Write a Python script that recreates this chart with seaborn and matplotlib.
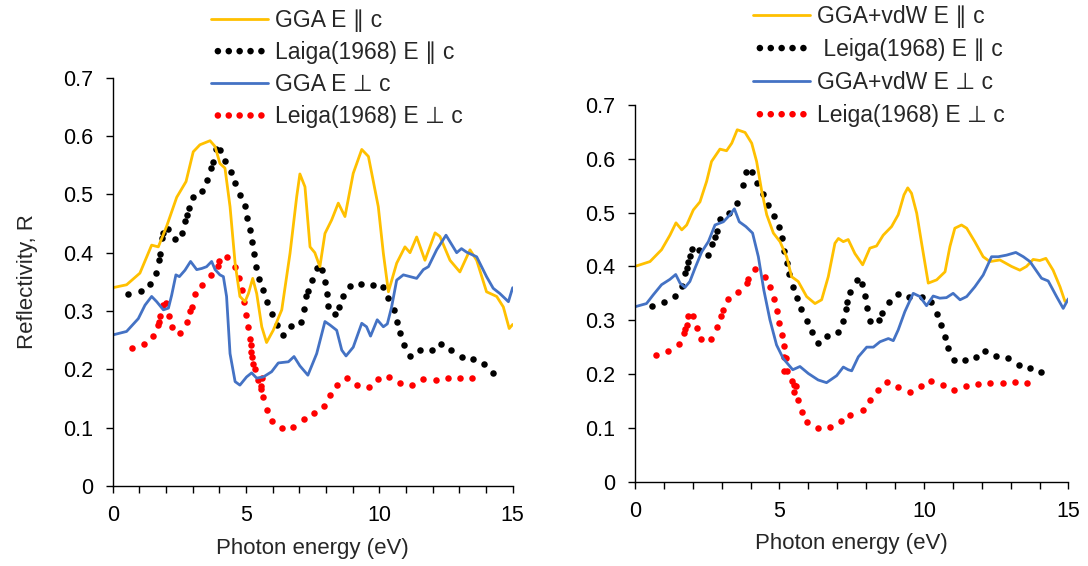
import matplotlib
matplotlib.use("Agg")
import matplotlib.pyplot as plt
import seaborn as sns
import pandas as pd
from matplotlib.ticker import FixedLocator, FuncFormatter

# ---------------- data: left panel (GGA) ----------------
gga_par_x = [0, 0.52, 1.02, 1.46, 1.71, 2.02, 2.4, 2.75, 3.02, 3.27, 3.65, 3.84, 4.02, 4.21, 4.4, 4.59,
             4.77, 4.96, 5.09, 5.25, 5.4, 5.59, 5.77, 6.02, 6.34, 6.65, 6.9, 7.02, 7.21, 7.4, 7.58,
             7.77, 7.96, 8.21, 8.46, 8.71, 9.02, 9.34, 9.59, 9.96, 10.15, 10.34, 10.65, 10.96, 11.15,
             11.4, 11.71, 12.09, 12.27, 12.65, 13.02, 13.4, 13.65, 14.02, 14.4, 14.65, 14.87, 15.0]
gga_par_y = [0.340, 0.345, 0.365, 0.413, 0.410, 0.445, 0.495, 0.522, 0.573, 0.585, 0.592, 0.582, 0.553,
             0.545, 0.479, 0.382, 0.325, 0.316, 0.330, 0.356, 0.330, 0.273, 0.246, 0.267, 0.302, 0.399,
             0.496, 0.535, 0.513, 0.410, 0.400, 0.376, 0.433, 0.456, 0.485, 0.462, 0.536, 0.577, 0.565,
             0.479, 0.399, 0.333, 0.382, 0.410, 0.400, 0.427, 0.387, 0.434, 0.428, 0.387, 0.367, 0.405,
             0.387, 0.333, 0.325, 0.307, 0.270, 0.277]

gga_perp_x = [0, 0.52, 0.96, 1.21, 1.46, 1.65, 1.9, 2.09, 2.21, 2.37, 2.5, 2.71, 2.92, 3.15, 3.34, 3.52,
              3.71, 3.84, 4.02, 4.15, 4.27, 4.4, 4.59, 4.77, 5.02, 5.21, 5.4, 5.65, 5.96, 6.21, 6.59,
              6.8, 7.02, 7.32, 7.65, 7.96, 8.15, 8.4, 8.59, 8.75, 9.02, 9.34, 9.52, 9.67, 9.92, 10.15,
              10.3, 10.46, 10.65, 10.9, 11.4, 11.65, 11.84, 12.15, 12.5, 12.9, 13.08, 13.27, 13.65,
              14.02, 14.27, 14.52, 14.84, 15.0]
gga_perp_y = [0.259, 0.265, 0.287, 0.310, 0.325, 0.316, 0.302, 0.305, 0.327, 0.362, 0.359, 0.370, 0.385,
              0.371, 0.373, 0.376, 0.385, 0.371, 0.362, 0.359, 0.325, 0.227, 0.179, 0.173, 0.187, 0.194,
              0.185, 0.187, 0.196, 0.211, 0.213, 0.222, 0.206, 0.190, 0.227, 0.282, 0.276, 0.267, 0.233,
              0.223, 0.238, 0.279, 0.273, 0.257, 0.285, 0.273, 0.278, 0.307, 0.353, 0.362, 0.356, 0.371,
              0.376, 0.405, 0.430, 0.400, 0.407, 0.401, 0.393, 0.359, 0.339, 0.330, 0.316, 0.340]

laiga_par_x = [0.59, 1.05, 1.40, 1.62, 1.72, 1.77, 1.86, 1.90, 2.09, 2.35, 2.60, 2.72, 2.80, 2.85, 3.0,
               3.36, 3.54, 3.67, 3.77, 3.86, 4.02, 4.21, 4.44, 4.59, 4.77, 4.97, 5.02, 5.15, 5.21, 5.30,
               5.37, 5.47, 5.65, 5.80, 5.96, 6.15, 6.40, 6.67, 7.07, 7.19, 7.25, 7.31, 7.47, 7.65, 7.84,
               7.96, 8.02, 8.08, 8.34, 8.50, 8.65, 8.90, 9.30, 9.75, 10.15, 10.34, 10.55, 10.67, 10.77,
               10.92, 11.15, 11.52, 11.98, 12.31, 12.69, 13.09, 13.52, 13.92, 14.25]
laiga_par_y = [0.329, 0.334, 0.347, 0.366, 0.387, 0.397, 0.425, 0.434, 0.441, 0.423, 0.433, 0.454, 0.465,
               0.476, 0.496, 0.505, 0.525, 0.545, 0.556, 0.577, 0.576, 0.557, 0.539, 0.519, 0.499, 0.480,
               0.459, 0.439, 0.418, 0.398, 0.376, 0.355, 0.336, 0.315, 0.295, 0.276, 0.259, 0.275, 0.282,
               0.303, 0.325, 0.334, 0.353, 0.373, 0.371, 0.350, 0.330, 0.309, 0.295, 0.307, 0.326, 0.343,
               0.347, 0.345, 0.342, 0.322, 0.302, 0.282, 0.262, 0.242, 0.223, 0.233, 0.233, 0.243, 0.233,
               0.222, 0.218, 0.209, 0.193]

leiga_perp_x = [0.74, 1.17, 1.52, 1.71, 1.75, 1.79, 1.90, 1.99, 2.11, 2.21, 2.52, 2.77, 2.90, 2.97, 3.10,
                3.36, 3.67, 3.96, 3.99, 4.27, 4.57, 4.72, 4.84, 4.93, 5.0, 5.07, 5.15, 5.17, 5.17, 5.24,
                5.27, 5.35, 5.44, 5.59, 5.55, 5.57, 5.65, 5.77, 5.96, 6.34, 6.77, 7.17, 7.56, 7.93, 8.15,
                8.42, 8.77, 9.17, 9.61, 9.96, 10.37, 10.77, 11.21, 11.65, 12.11, 12.56, 13.02, 13.48]
leiga_perp_y = [0.237, 0.244, 0.257, 0.276, 0.282, 0.291, 0.311, 0.313, 0.292, 0.272, 0.263, 0.281, 0.300,
                0.307, 0.329, 0.345, 0.362, 0.378, 0.386, 0.392, 0.376, 0.356, 0.336, 0.315, 0.294, 0.273,
                0.252, 0.242, 0.230, 0.222, 0.210, 0.200, 0.182, 0.186, 0.172, 0.166, 0.152, 0.130, 0.111,
                0.100, 0.102, 0.115, 0.126, 0.137, 0.156, 0.173, 0.186, 0.174, 0.169, 0.183, 0.187, 0.176,
                0.174, 0.183, 0.182, 0.185, 0.186, 0.186]

# ---------------- data: right panel (GGA+vdW) ----------------
vdw_par_x = [0, 0.52, 0.92, 1.21, 1.42, 1.62, 1.79, 2.02, 2.25, 2.48, 2.65, 2.94, 3.17, 3.35, 3.54, 3.81,
             4.04, 4.21, 4.38, 4.56, 4.79, 5.02, 5.25, 5.42, 5.65, 5.94, 6.23, 6.46, 6.69, 6.92, 7.04,
             7.21, 7.38, 7.61, 7.88, 8.13, 8.36, 8.59, 8.88, 9.11, 9.31, 9.44, 9.57, 9.75, 9.92, 10.15,
             10.44, 10.73, 10.90, 11.07, 11.30, 11.48, 11.76, 12.05, 12.28, 12.63, 13.03, 13.32, 13.55,
             13.78, 14.01, 14.22, 14.47, 14.71, 14.88, 15.0]
vdw_par_y = [0.400, 0.409, 0.431, 0.458, 0.481, 0.468, 0.477, 0.505, 0.520, 0.558, 0.595, 0.618, 0.615,
             0.629, 0.654, 0.649, 0.629, 0.595, 0.542, 0.496, 0.462, 0.446, 0.418, 0.381, 0.372, 0.344,
             0.331, 0.338, 0.381, 0.443, 0.452, 0.446, 0.450, 0.424, 0.403, 0.434, 0.438, 0.458, 0.474,
             0.496, 0.533, 0.546, 0.536, 0.499, 0.443, 0.369, 0.375, 0.390, 0.437, 0.471, 0.477, 0.471,
             0.446, 0.418, 0.409, 0.412, 0.400, 0.393, 0.400, 0.413, 0.411, 0.415, 0.393, 0.362, 0.335,
             0.337]

vdw_perp_x = [0, 0.40, 0.63, 0.92, 1.21, 1.41, 1.56, 1.73, 1.90, 2.08, 2.31, 2.54, 2.77, 3.06, 3.29, 3.44,
              3.61, 3.84, 4.07, 4.27, 4.46, 4.67, 4.90, 5.13, 5.46, 5.71, 6.00, 6.34, 6.63, 6.98, 7.21,
              7.38, 7.50, 7.73, 8.02, 8.25, 8.48, 8.77, 8.94, 9.11, 9.34, 9.63, 9.86, 10.09, 10.32, 10.55,
              10.78, 11.01, 11.25, 11.48, 11.76, 12.05, 12.34, 12.57, 12.86, 13.18, 13.44, 13.67, 14.07,
              14.30, 14.59, 14.82, 15.0]
vdw_perp_y = [0.325, 0.331, 0.347, 0.366, 0.376, 0.385, 0.369, 0.361, 0.372, 0.397, 0.427, 0.446, 0.477,
              0.483, 0.496, 0.507, 0.483, 0.474, 0.462, 0.418, 0.356, 0.301, 0.254, 0.229, 0.208, 0.214,
              0.201, 0.189, 0.184, 0.197, 0.213, 0.208, 0.206, 0.232, 0.250, 0.250, 0.260, 0.266, 0.262,
              0.282, 0.316, 0.350, 0.344, 0.327, 0.345, 0.341, 0.342, 0.350, 0.338, 0.344, 0.362, 0.384,
              0.418, 0.418, 0.421, 0.426, 0.418, 0.409, 0.378, 0.373, 0.344, 0.322, 0.340]

leiga2_par_x = [0.60, 1.01, 1.40, 1.62, 1.73, 1.79, 1.84, 1.90, 1.97, 2.21, 2.54, 2.66, 2.77, 2.83, 2.94,
                3.25, 3.52, 3.75, 3.83, 4.06, 4.23, 4.44, 4.61, 4.81, 4.98, 5.08, 5.16, 5.27, 5.34, 5.46,
                5.60, 5.74, 5.94, 6.11, 6.34, 6.65, 7.03, 7.19, 7.29, 7.34, 7.44, 7.69, 7.87, 7.96, 8.04,
                8.13, 8.45, 8.54, 8.78, 9.09, 9.48, 9.92, 10.24, 10.44, 10.59, 10.73, 10.84, 11.05, 11.41,
                11.80, 12.12, 12.49, 12.92, 13.29, 13.67, 14.05]
leiga2_par_y = [0.327, 0.333, 0.345, 0.364, 0.387, 0.398, 0.409, 0.420, 0.432, 0.431, 0.421, 0.442, 0.455,
                0.466, 0.489, 0.499, 0.517, 0.551, 0.575, 0.575, 0.555, 0.535, 0.514, 0.494, 0.474, 0.452,
                0.429, 0.407, 0.386, 0.362, 0.342, 0.320, 0.299, 0.279, 0.258, 0.271, 0.279, 0.299, 0.321,
                0.333, 0.353, 0.375, 0.367, 0.345, 0.322, 0.299, 0.300, 0.314, 0.333, 0.348, 0.344, 0.344,
                0.333, 0.312, 0.291, 0.269, 0.248, 0.227, 0.226, 0.232, 0.243, 0.234, 0.229, 0.217, 0.211,
                0.203]

leiga2_perp_x = [0.73, 1.15, 1.51, 1.70, 1.73, 1.79, 1.84, 2.02, 2.13, 2.28, 2.63, 2.85, 2.98, 3.03, 3.21,
                 3.55, 3.88, 3.92, 4.15, 4.50, 4.67, 4.82, 4.91, 4.99, 5.10, 5.16, 5.16, 5.22, 5.17, 5.25,
                 5.44, 5.50, 5.57, 5.50, 5.64, 5.77, 5.96, 6.32, 6.75, 7.12, 7.44, 7.89, 8.13, 8.40, 8.73,
                 9.11, 9.52, 9.89, 10.25, 10.65, 11.05, 11.45, 11.88, 12.28, 12.72, 13.16, 13.57]
leiga2_perp_y = [0.235, 0.243, 0.255, 0.276, 0.283, 0.292, 0.307, 0.307, 0.286, 0.265, 0.266, 0.287, 0.308,
                 0.319, 0.339, 0.353, 0.369, 0.377, 0.395, 0.381, 0.361, 0.340, 0.317, 0.294, 0.273, 0.252,
                 0.232, 0.230, 0.206, 0.206, 0.188, 0.180, 0.177, 0.166, 0.152, 0.130, 0.110, 0.099, 0.101,
                 0.113, 0.124, 0.133, 0.152, 0.170, 0.185, 0.175, 0.167, 0.178, 0.188, 0.180, 0.170, 0.178,
                 0.182, 0.183, 0.183, 0.186, 0.184]

left_labels = ["GGA E \u2225 c", "Laiga(1968) E \u2225 c", "GGA E \u22a5 c", "Leiga(1968) E \u22a5 c"]
right_labels = ["GGA+vdW E \u2225 c", " Leiga(1968) E \u2225 c", "GGA+vdW E \u22a5 c", "Leiga(1968) E \u22a5 c"]
x_ticks = list(range(0, 16))
y_ticks = [0, 0.1, 0.2, 0.3, 0.4, 0.5, 0.6, 0.7]

YELLOW = "#FFC000"
BLUE = "#4472C4"
BLACK = "#000000"
RED = "#FF0000"

sns.set_style("ticks")
plt.rcParams["font.family"] = ["Liberation Sans", "DejaVu Sans"]
plt.rcParams["axes.linewidth"] = 1.0

fig = plt.figure(figsize=(10.88, 5.66), dpi=100)
axL = fig.add_axes([0.1036, 0.1413, 0.3676, 0.7214])
axR = fig.add_axes([0.5836, 0.1490, 0.3984, 0.6655])

FS = 15.5
LFS = 16.5


def draw(ax, par_x, par_y, exp_par_x, exp_par_y, perp_x, perp_y, exp_perp_x, exp_perp_y, labels):
    d1 = pd.DataFrame({"x": par_x, "y": par_y})
    d2 = pd.DataFrame({"x": exp_par_x, "y": exp_par_y})
    d3 = pd.DataFrame({"x": perp_x, "y": perp_y})
    d4 = pd.DataFrame({"x": exp_perp_x, "y": exp_perp_y})
    sns.lineplot(data=d1, x="x", y="y", ax=ax, color=YELLOW, lw=2.0, sort=False,
                 estimator=None, label=labels[0], legend=False)
    sns.scatterplot(data=d2, x="x", y="y", ax=ax, color=BLACK, s=22, linewidth=0,
                    label=labels[1], legend=False)
    sns.lineplot(data=d3, x="x", y="y", ax=ax, color=BLUE, lw=2.0, sort=False,
                 estimator=None, label=labels[2], legend=False)
    sns.scatterplot(data=d4, x="x", y="y", ax=ax, color=RED, s=22, linewidth=0,
                    label=labels[3], legend=False)
    ax.set_xlim(0, 15)
    ax.set_ylim(0, 0.7)
    ax.xaxis.set_major_locator(FixedLocator(x_ticks))
    ax.xaxis.set_major_formatter(FuncFormatter(lambda v, p: f"{int(round(v))}" if int(round(v)) % 5 == 0 else ""))
    ax.yaxis.set_major_locator(FixedLocator(y_ticks))
    ax.yaxis.set_major_formatter(FuncFormatter(lambda v, p: "0" if abs(v) < 1e-9 else f"{v:.1f}"))
    ax.tick_params(axis="both", labelsize=FS, length=5, width=1, direction="out", colors="black")
    ax.tick_params(axis="y", pad=9)
    ax.tick_params(axis="x", pad=9)
    ax.set_xlabel("Photon energy (eV)", fontsize=16, labelpad=8)
    ax.set_ylabel("")
    sns.despine(ax=ax)
    ax.spines["left"].set_color("black")
    ax.spines["bottom"].set_color("black")


draw(axL, gga_par_x, gga_par_y, laiga_par_x, laiga_par_y, gga_perp_x, gga_perp_y,
     leiga_perp_x, leiga_perp_y, left_labels)
draw(axR, vdw_par_x, vdw_par_y, leiga2_par_x, leiga2_par_y, vdw_perp_x, vdw_perp_y,
     leiga2_perp_x, leiga2_perp_y, right_labels)

axL.set_ylabel("Reflectivity, R", fontsize=16, labelpad=18)


def add_legend(ax, x0, y0, spacing):
    h, l = ax.get_legend_handles_labels()
    leg = fig.legend(h, l, loc="upper left", bbox_to_anchor=(x0 / 1088, 1 - y0 / 566),
                     frameon=False, fontsize=LFS, handlelength=2.5, handletextpad=0.3,
                     labelspacing=spacing, borderpad=0, borderaxespad=0,
                     scatterpoints=5, scatteryoffsets=[0.5])
    return leg


add_legend(axL, 211, 9, 0.40)
add_legend(axR, 753, 5, 0.44)

fig.savefig("out.png", dpi=100)
